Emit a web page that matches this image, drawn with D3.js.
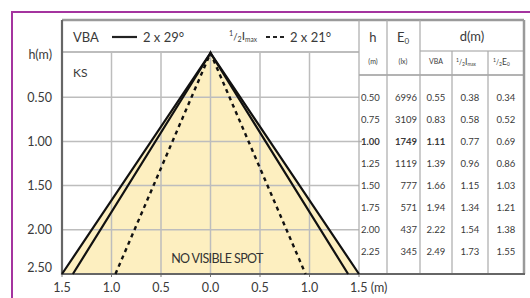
<!DOCTYPE html>
<html>
<head>
<meta charset="utf-8">
<script src="https://cdn.jsdelivr.net/npm/d3@7"></script>
<style>
    html, body { margin: 0; padding: 0; background: #fff; }
    svg { display: block; font-family: Lato, "Open Sans", sans-serif; }
</style>
</head>
<body>
<svg id="chart" width="530" height="298"></svg>
<script>
(function () {
    'use strict';

    // table rows
    var hRows = [0.50, 0.75, 1.00, 1.25, 1.50, 1.75, 2.00, 2.25];
    var e0 = [6996, 3109, 1749, 1119, 777, 571, 437, 345];
    var dVBA = [0.55, 0.83, 1.11, 1.39, 1.66, 1.94, 2.22, 2.49];
    var dHalfImax = [0.38, 0.58, 0.77, 0.96, 1.15, 1.34, 1.54, 1.73];
    var dHalfE = [0.34, 0.52, 0.69, 0.86, 1.03, 1.21, 1.38, 1.55];

    // axes
    var xTicks = [-1.5, -1.0, -0.5, 0.0, 0.5, 1.0, 1.5];
    var yTicks = [0.50, 1.00, 1.50, 2.00, 2.50];

    // cone half widths at h = 2.5 m
    var coneDepth = 2.5;
    var coneEdges = [1.5, 1.39];
    var halfImaxEdge = 0.96;

    var svg = d3.select('#chart');
    var x = d3.scaleLinear().domain([-1.5, 1.5]).range([62, 359]);
    var y = d3.scaleLinear().domain([0, 2.5]).range([53, 274]);

    var textColor = '#3a3a3a';
    var gridColor = '#bdbdbd';
    var frameColor = '#9a9a9a';

    // purple frame
    svg.append('path')
        .attr('d', 'M12,298 L12,12 L530,12')
        .attr('fill', 'none')
        .attr('stroke', '#a4349f')
        .attr('stroke-width', 2);

    // cone fill
    svg.append('path')
        .attr('d', d3.line()([
            [x(-coneEdges[0]), y(coneDepth)],
            [x(0), y(0)],
            [x(coneEdges[0]), y(coneDepth)]
        ]) + 'Z')
        .attr('fill', '#fdefc0');

    // grid
    svg.append('g').selectAll('line')
        .data(xTicks.slice(1, -1))
        .join('line')
        .attr('x1', function (d) { return x(d); })
        .attr('x2', function (d) { return x(d); })
        .attr('y1', 52)
        .attr('y2', y(2.5))
        .attr('stroke', gridColor)
        .attr('stroke-width', 1.5);

    svg.append('g').selectAll('line')
        .data(yTicks.slice(0, -1))
        .join('line')
        .attr('x1', x(-1.5))
        .attr('x2', function (d) { return d === 1 ? 362 : x(1.5); })
        .attr('y1', function (d) { return y(d); })
        .attr('y2', function (d) { return y(d); })
        .attr('stroke', gridColor)
        .attr('stroke-width', 1.5);

    // bottom ticks
    svg.append('g').selectAll('line')
        .data(xTicks)
        .join('line')
        .attr('x1', function (d) { return x(d); })
        .attr('x2', function (d) { return x(d); })
        .attr('y1', y(2.5))
        .attr('y2', y(2.5) + 3)
        .attr('stroke', '#777')
        .attr('stroke-width', 1);

    // table frame
    var tLeft = 359, tRight = 524, tTop = 20, headMid = 51, headBot = 75;
    var cols = [359, 387, 420, 452, 488, 524];
    var frame = svg.append('g').attr('fill', 'none');
    frame.append('line').attr('x1', 62).attr('x2', tRight).attr('y1', tTop).attr('y2', tTop)
        .attr('stroke', frameColor).attr('stroke-width', 2.5);
    frame.append('line').attr('x1', 62).attr('x2', tLeft).attr('y1', 52).attr('y2', 52)
        .attr('stroke', gridColor).attr('stroke-width', 2);
    frame.append('line').attr('x1', cols[2]).attr('x2', tRight).attr('y1', headMid).attr('y2', headMid)
        .attr('stroke', gridColor).attr('stroke-width', 1.5);
    frame.append('line').attr('x1', tLeft).attr('x2', tRight).attr('y1', headBot).attr('y2', headBot)
        .attr('stroke', frameColor).attr('stroke-width', 1.5);
    frame.selectAll('.col')
        .data(cols)
        .join('line')
        .attr('x1', function (d) { return d; })
        .attr('x2', function (d) { return d; })
        .attr('y1', function (d, i) { return (i === 3 || i === 4) ? headMid : tTop; })
        .attr('y2', y(2.5))
        .attr('stroke', function (d, i) { return i === 5 ? frameColor : '#aaa'; })
        .attr('stroke-width', function (d, i) { return i === 5 ? 2.5 : 1.2; });
    frame.append('line').attr('x1', 62).attr('x2', 62).attr('y1', tTop).attr('y2', y(2.5) + 1)
        .attr('stroke', '#666').attr('stroke-width', 2.2);
    frame.append('line').attr('x1', 62).attr('x2', tRight + 1).attr('y1', y(2.5)).attr('y2', y(2.5))
        .attr('stroke', '#666').attr('stroke-width', 2.2);

    // cone lines
    var lines = svg.append('g').attr('fill', 'none').attr('stroke', '#111');
    coneEdges.forEach(function (e) {
        lines.append('path')
            .attr('d', d3.line()([[x(-e), y(coneDepth)], [x(0), y(0)], [x(e), y(coneDepth)]]))
            .attr('stroke-width', 2.2)
            .attr('stroke-linejoin', 'miter');
    });
    lines.append('path')
        .attr('d', d3.line()([[x(-halfImaxEdge), y(coneDepth)], [x(0), y(0)], [x(halfImaxEdge), y(coneDepth)]]))
        .attr('stroke-width', 2.4)
        .attr('stroke-dasharray', '4,4');

    // x labels
    svg.append('g').selectAll('text')
        .data(xTicks)
        .join('text')
        .attr('x', function (d) { return x(d); })
        .attr('y', 292)
        .attr('text-anchor', function (d, i) { return i === xTicks.length - 1 ? 'start' : 'middle'; })
        .attr('dx', function (d, i) { return i === xTicks.length - 1 ? -9 : 0; })
        .attr('font-size', 12.5)
        .attr('fill', textColor)
        .text(function (d, i) {
            var s = Math.abs(d).toFixed(1);
            return i === xTicks.length - 1 ? s + ' (m)' : s;
        });

    // y labels
    svg.append('g').selectAll('text')
        .data(yTicks)
        .join('text')
        .attr('x', 52)
        .attr('y', function (d, i) { return y(d) + (i === yTicks.length - 1 ? -6 : 0); })
        .attr('dy', '0.35em')
        .attr('text-anchor', 'end')
        .attr('font-size', 12.5)
        .attr('fill', textColor)
        .text(function (d) { return d.toFixed(2); });

    svg.append('text').attr('x', 52).attr('y', 55).attr('dy', '0.35em')
        .attr('text-anchor', 'end').attr('font-size', 12.5).attr('fill', textColor).text('h(m)');
    svg.append('text').attr('x', 73).attr('y', 73).attr('dy', '0.35em')
        .attr('font-size', 12).attr('fill', textColor).text('KS');
    svg.append('text').attr('x', 217).attr('y', 259).attr('dy', '0.35em')
        .attr('text-anchor', 'middle').attr('font-size', 12.5).attr('fill', '#333')
        .attr('letter-spacing', -0.6).text('NO VISIBLE SPOT');

    // legend
    var lg = svg.append('g').attr('fill', textColor).attr('font-size', 13);
    lg.append('text').attr('x', 73).attr('y', 37).attr('dy', '0.35em').text('VBA');
    lg.append('line').attr('x1', 112).attr('x2', 137).attr('y1', 37).attr('y2', 37)
        .attr('stroke', '#222').attr('stroke-width', 2.2);
    lg.append('text').attr('x', 143).attr('y', 37).attr('dy', '0.35em').text('2 x 29°');

    function halfLabel(sel, sub, size) {
        sel.append('tspan').attr('font-size', size * 0.6).attr('dy', -size * 0.3).text('1');
        sel.append('tspan').attr('font-size', size * 0.8).attr('dy', size * 0.3).text('/');
        sel.append('tspan').attr('font-size', size * 0.6).attr('dy', size * 0.15).text('2');
        sel.append('tspan').attr('font-size', size).attr('dy', -size * 0.15).text(sub[0]);
        sel.append('tspan').attr('font-size', size * 0.55).attr('dy', size * 0.15).text(sub[1]);
    }
    var hl = lg.append('text').attr('x', 229).attr('y', 40);
    halfLabel(hl, ['I', 'max'], 12);
    lg.append('line').attr('x1', 266).attr('x2', 285).attr('y1', 37).attr('y2', 37)
        .attr('stroke', '#222').attr('stroke-width', 2).attr('stroke-dasharray', '4,3');
    lg.append('text').attr('x', 290).attr('y', 37).attr('dy', '0.35em').text('2 x 21°');

    // table header
    var th = svg.append('g').attr('fill', textColor);
    th.append('text').attr('x', 373).attr('y', 37).attr('dy', '0.35em').attr('text-anchor', 'middle')
        .attr('font-size', 13).text('h');
    var e0t = th.append('text').attr('x', 397).attr('y', 37).attr('dy', '0.35em').attr('font-size', 13);
    e0t.append('tspan').text('E');
    e0t.append('tspan').attr('font-size', 8).attr('dy', 2).text('0');
    th.append('text').attr('x', 472).attr('y', 36).attr('dy', '0.35em').attr('text-anchor', 'middle')
        .attr('font-size', 13).text('d(m)');
    var sub = th.append('g').attr('font-size', 7);
    sub.append('text').attr('x', 373).attr('y', 64).attr('text-anchor', 'middle').text('(m)');
    sub.append('text').attr('x', 403).attr('y', 64).attr('text-anchor', 'middle').text('(lx)');
    sub.append('text').attr('x', 436).attr('y', 64).attr('text-anchor', 'middle').text('VBA');
    var s1 = sub.append('text').attr('x', 456).attr('y', 65);
    halfLabel(s1, ['I', 'max'], 8.5);
    var s2 = sub.append('text').attr('x', 493).attr('y', 65);
    halfLabel(s2, ['E', '0'], 8.5);

    // table rows
    var rows = svg.append('g').attr('fill', textColor).attr('font-size', 9.5)
        .selectAll('g')
        .data(hRows.map(function (h, i) {
            return { h: h, e: e0[i], vba: dVBA[i], imax: dHalfImax[i], he: dHalfE[i] };
        }))
        .join('g')
        .attr('transform', function (d) { return 'translate(0,' + y(d.h) + ')'; })
        .attr('font-weight', function (d) { return d.h === 1 ? 'bold' : 'normal'; });
    rows.append('text').attr('x', 361).attr('dy', '0.35em').text(function (d) { return d.h.toFixed(2); });
    rows.append('text').attr('x', 417).attr('dy', '0.35em').attr('text-anchor', 'end')
        .text(function (d) { return d.e; });
    rows.append('text').attr('x', 436).attr('dy', '0.35em').attr('text-anchor', 'middle')
        .text(function (d) { return d.vba.toFixed(2); });
    rows.append('text').attr('x', 470).attr('dy', '0.35em').attr('text-anchor', 'middle')
        .attr('font-weight', 'normal')
        .text(function (d) { return d.imax.toFixed(2); });
    rows.append('text').attr('x', 506).attr('dy', '0.35em').attr('text-anchor', 'middle')
        .attr('font-weight', 'normal')
        .text(function (d) { return d.he.toFixed(2); });
}());
</script>
</body>
</html>
